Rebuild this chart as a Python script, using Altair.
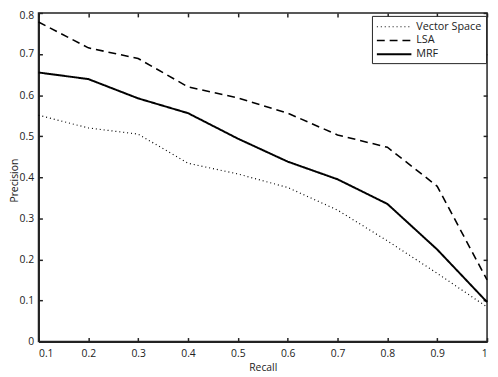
import altair as alt
import pandas as pd

recall = [0.1, 0.2, 0.3, 0.4, 0.5, 0.6, 0.7, 0.8, 0.9, 1.0]
vector_space = [0.551, 0.520, 0.505, 0.434, 0.408, 0.375, 0.320, 0.245, 0.166, 0.084]
lsa = [0.778, 0.715, 0.689, 0.620, 0.593, 0.556, 0.503, 0.473, 0.378, 0.150]
mrf = [0.655, 0.639, 0.592, 0.556, 0.494, 0.438, 0.395, 0.335, 0.224, 0.096]
series = ["Vector Space", "LSA", "MRF"]
x_ticks = [0.1, 0.2, 0.3, 0.4, 0.5, 0.6, 0.7, 0.8, 0.9, 1.0]
y_ticks = [0, 0.1, 0.2, 0.3, 0.4, 0.5, 0.6, 0.7, 0.8]

rows = []
for name, vals in zip(series, [vector_space, lsa, mrf]):
    for r, p in zip(recall, vals):
        rows.append({"Recall": r, "Precision": p, "Method": name})
df = pd.DataFrame(rows)

W, H = 456, 334
FONT = "Open Sans"

xs = alt.Scale(domain=[0.1, 1.0], nice=False, zero=False)
ys = alt.Scale(domain=[0, 0.8], nice=False, zero=True)

main = alt.Chart(df).mark_line(color="black").encode(
    x=alt.X("Recall:Q", scale=xs,
            axis=alt.Axis(values=x_ticks, format=".1~f", tickSize=0, labelPadding=7,
                          domainColor="#222", domainWidth=2, grid=False,
                          labelFont=FONT, labelFontSize=10.5, labelColor="#222",
                          title="Recall", titleFont=FONT, titleFontSize=10.5,
                          titleFontWeight="normal", titleColor="#222",
                          titleX=W / 2, titleY=21, titleBaseline="top", titleAlign="center")),
    y=alt.Y("Precision:Q", scale=ys,
            axis=alt.Axis(values=y_ticks, format=".1~f", tickSize=0, labelPadding=5,
                          labelOffset={"condition": {"test": "datum.value >= 0.8", "value": 3},
                                       "value": 0},
                          domainColor="#222", domainWidth=2, grid=False,
                          labelFont=FONT, labelFontSize=10.5, labelColor="#222",
                          title="Precision", titleFont=FONT, titleFontSize=10.5,
                          titleFontWeight="normal", titleColor="#222",
                          titleX=-19, titleY=170, titleAngle=-90,
                          titleBaseline="bottom", titleAlign="center")),
    strokeDash=alt.StrokeDash("Method:N",
                              scale=alt.Scale(domain=series, range=[[1, 3], [8, 5], [1, 0]]),
                              legend=alt.Legend(title=None, orient="none", legendX=339, legendY=3,
                                                strokeColor="#222", fillColor="white",
                                                padding=4, rowPadding=2, labelOffset=27,
                                                symbolType="M-1,0H4.85", symbolSize=144,
                                                symbolStrokeColor="black", symbolStrokeWidth=1.6,
                                                labelFont=FONT, labelFontSize=11,
                                                labelColor="#222")),
    strokeWidth=alt.StrokeWidth("Method:N",
                                scale=alt.Scale(domain=series, range=[1.2, 2, 2]),
                                legend=None),
)

def tick_layer(x_axis, y_axis):
    return alt.Chart(df).mark_line(opacity=0).encode(
        x=alt.X("Recall:Q", scale=xs, axis=x_axis),
        y=alt.Y("Precision:Q", scale=ys, axis=y_axis),
    )

def tick_axis(orient, offset, values):
    return alt.Axis(orient=orient, offset=offset, values=values, labels=False, domain=False,
                    grid=False, tickSize=4, tickColor="#222", tickWidth=1.5, title=None)

l1 = tick_layer(tick_axis("top", -H, x_ticks), None)
l2 = tick_layer(tick_axis("bottom", -H, x_ticks), None)
l3 = tick_layer(None, tick_axis("right", -W, y_ticks))
l4 = tick_layer(None, tick_axis("left", -W, y_ticks))

chart = alt.layer(main, l1, l2, l3, l4).resolve_axis(
    x="independent", y="independent"
).properties(
    width=W, height=H,
    autosize=alt.AutoSizeParams(type="none"),
    padding={"left": 31, "top": 2, "right": 3, "bottom": 30},
).configure_view(
    stroke="#222", strokeWidth=1.5
)

chart.save("out.html", embed_options={"renderer": "svg", "actions": False})
